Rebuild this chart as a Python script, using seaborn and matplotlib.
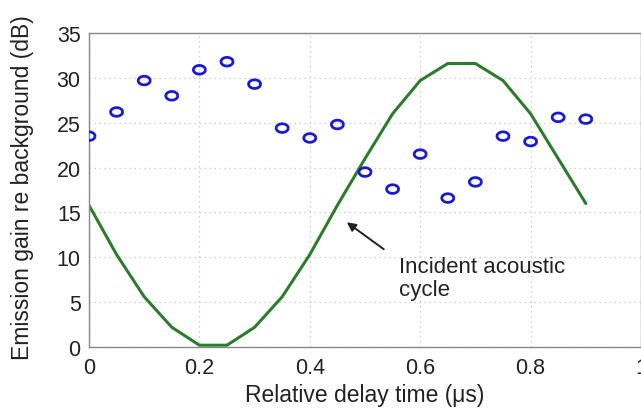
import numpy as np
import matplotlib
matplotlib.use("Agg")
import matplotlib.pyplot as plt
from matplotlib.path import Path
import seaborn as sns
import pandas as pd

delay = [0.0, 0.05, 0.1, 0.15, 0.2, 0.25, 0.3, 0.35, 0.4, 0.45,
         0.5, 0.55, 0.6, 0.65, 0.7, 0.75, 0.8, 0.85, 0.9]
emission_gain = [23.5, 26.2, 29.7, 28.0, 30.9, 31.8, 29.3, 24.4, 23.3, 24.8,
                 19.5, 17.6, 21.5, 16.6, 18.4, 23.5, 22.9, 25.6, 25.4]
acoustic_cycle = [15.8, 10.3, 5.6, 2.2, 0.2, 0.2, 2.2, 5.6, 10.3, 15.8,
                  21.0, 26.0, 29.7, 31.6, 31.6, 29.7, 26.0, 21.0, 16.0]
x_ticks = [0, 0.2, 0.4, 0.6, 0.8, 1]
x_ticklabels = ["0", "0.2", "0.4", "0.6", "0.8", "1"]
y_ticks = [0, 5, 10, 15, 20, 25, 30, 35]

df = pd.DataFrame({"delay": delay, "gain": emission_gain, "cycle": acoustic_cycle})

sns.set_style("white")
plt.rcParams["font.family"] = ["Liberation Sans", "DejaVu Sans"]

fig = plt.figure(figsize=(6.41, 4.10), dpi=100)
ax = fig.add_axes([89/641, 62/410, 552/641, 314/410])

sns.lineplot(data=df, x="delay", y="cycle", ax=ax, color="#2b7d2b", linewidth=2.2)

t = np.linspace(0, 2*np.pi, 40)
ell = Path(np.column_stack([np.cos(t), 0.72*np.sin(t)]))
sns.scatterplot(data=df, x="delay", y="gain", ax=ax, marker=ell, s=75,
                facecolor="none", edgecolor="#1a1ad0", linewidth=2.0, zorder=3)

ax.set_xlim(0, 1)
ax.set_ylim(0, 35)
ax.set_xticks(x_ticks)
ax.set_xticklabels(x_ticklabels)
ax.set_yticks(y_ticks)
ax.grid(True, linestyle=(0, (1, 3)), color="#c4c4c4", linewidth=0.9)
ax.tick_params(direction="in", length=4, labelsize=15.5, colors="#222222",
               width=0.8, pad=6)
ax.tick_params(axis="x", pad=7)
for s in ax.spines.values():
    s.set_color("#888888")
    s.set_linewidth(1.0)

ax.set_xlabel("Relative delay time (μs)", fontsize=16.5, color="#222222", labelpad=4)
ax.set_ylabel("Emission gain re background (dB)", fontsize=16.5, color="#222222")
ax.yaxis.set_label_coords(-0.100, 0.51)

ax.annotate("", xy=(0.467, 13.9), xytext=(0.534, 10.9),
            arrowprops=dict(arrowstyle="-|>", color="#222222", lw=1.4,
                            mutation_scale=13, shrinkA=0, shrinkB=0))
ax.text(0.561, 7.7, "Incident acoustic\ncycle", fontsize=16, color="#222222",
        ha="left", va="center", linespacing=1.1)

fig.savefig("out.png", dpi=100)
